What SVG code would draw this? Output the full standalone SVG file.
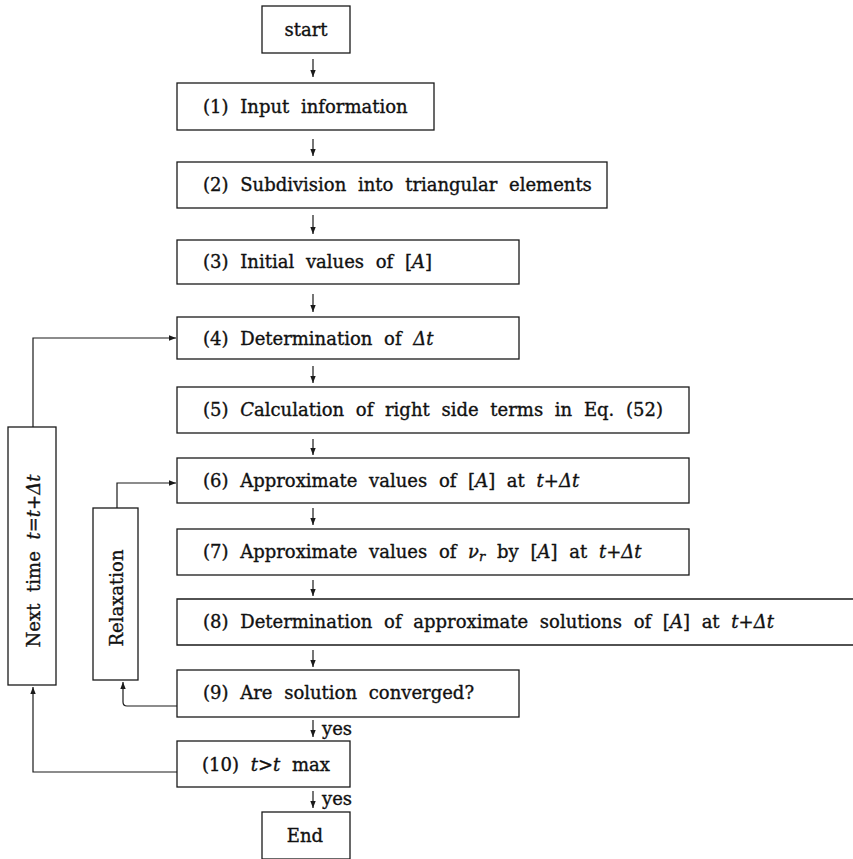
<svg xmlns="http://www.w3.org/2000/svg" width="853" height="859" viewBox="0 0 853 859">
<style>
.b{fill:none;stroke:#1a1a1a;stroke-width:1.3}
.c{fill:none;stroke:#1a1a1a;stroke-width:1.2}
.t{font-family:"DejaVu Serif","Liberation Serif",serif;font-size:18px;fill:#111;stroke:#111;stroke-width:0.35;word-spacing:6px}
.i{font-style:italic}
</style>
<defs>
<marker id="ah" markerUnits="userSpaceOnUse" markerWidth="8" markerHeight="8" viewBox="0 0 8 8" refX="7" refY="4" orient="auto">
<path d="M0,1.3 L7,4 L0,6.7 Z" fill="#1a1a1a"/>
</marker>
</defs>
<rect width="853" height="859" fill="#fff"/>

<g id="start"><rect class="b" x="262" y="6" width="88" height="47"/><text class="t" x="306" y="36" text-anchor="middle">start</text></g>
<g id="n1"><rect class="b" x="177" y="83" width="257" height="47"/><text class="t" x="203" y="113">(1) Input information</text></g>
<g id="n2"><rect class="b" x="177" y="162" width="430" height="46"/><text class="t" x="203" y="191">(2) Subdivision into triangular elements</text></g>
<g id="n3"><rect class="b" x="177" y="240" width="342" height="44"/><text class="t" x="203" y="268" word-spacing="8">(3) Initial values of [<tspan class="i">A</tspan>]</text></g>
<g id="n4"><rect class="b" x="177" y="317" width="342" height="42"/><text class="t" x="203" y="345">(4) Determination of <tspan class="i">Δt</tspan></text></g>
<g id="n5"><rect class="b" x="177" y="387" width="512" height="46"/><text class="t" x="203" y="416">(5) <tspan class="i">C</tspan>alculation of right side terms in Eq. (52)</text></g>
<g id="n6"><rect class="b" x="177" y="458" width="512" height="45"/><text class="t" x="203" y="487">(6) Approximate values of [<tspan class="i">A</tspan>] at <tspan class="i">t</tspan>+<tspan class="i">Δt</tspan></text></g>
<g id="n7"><rect class="b" x="177" y="529" width="512" height="46"/><text class="t" x="203" y="558">(7) Approximate values of <tspan class="i">ν</tspan><tspan class="i" font-size="13" dy="3">r</tspan><tspan dy="-3"> by [</tspan><tspan class="i">A</tspan>] at <tspan class="i">t</tspan>+<tspan class="i">Δt</tspan></text></g>
<g id="n8"><path class="b" d="M860,599 H177 V645 H860"/><text class="t" x="203" y="628">(8) Determination of approximate solutions of [<tspan class="i">A</tspan>] at <tspan class="i">t</tspan>+<tspan class="i">Δt</tspan></text></g>
<g id="n9"><rect class="b" x="177" y="670" width="342" height="47"/><text class="t" x="203" y="699">(9) Are solution converged?</text></g>
<g id="n10"><rect class="b" x="177" y="741" width="173" height="46"/><text class="t" x="202" y="771">(10) <tspan class="i">t</tspan>&gt;<tspan class="i">t</tspan> max</text></g>
<g id="end"><rect class="b" x="262" y="812" width="88" height="47"/><text class="t" x="305" y="842" text-anchor="middle">End</text></g>
<g id="next"><rect class="b" x="8" y="427" width="48" height="258"/><text class="t" transform="translate(40,561) rotate(-90)" x="0" y="0" text-anchor="middle" word-spacing="16">Next time <tspan class="i">t</tspan>=<tspan class="i">t</tspan>+<tspan class="i">Δt</tspan></text></g>
<g id="relax"><rect class="b" x="93" y="508" width="45" height="172"/><text class="t" transform="translate(123,598) rotate(-90)" x="0" y="0" text-anchor="middle">Relaxation</text></g>

<g id="connectors">
<path class="c" d="M313,59 V77" marker-end="url(#ah)"/>
<path class="c" d="M313,139 V156" marker-end="url(#ah)"/>
<path class="c" d="M313,215 V234" marker-end="url(#ah)"/>
<path class="c" d="M313,294 V312" marker-end="url(#ah)"/>
<path class="c" d="M313,366 V383" marker-end="url(#ah)"/>
<path class="c" d="M313,439 V455" marker-end="url(#ah)"/>
<path class="c" d="M313,508 V525" marker-end="url(#ah)"/>
<path class="c" d="M313,580 V596" marker-end="url(#ah)"/>
<path class="c" d="M313,650 V667" marker-end="url(#ah)"/>
<path class="c" d="M313,720 V737" marker-end="url(#ah)"/>
<text class="t" x="322" y="735">yes</text>
<path class="c" d="M313,791 V808" marker-end="url(#ah)"/>
<text class="t" x="322" y="805">yes</text>
<path class="c" d="M33,427 V338 H176" marker-end="url(#ah)"/>
<path class="c" d="M177,772 H33 V687" marker-end="url(#ah)"/>
<path class="c" d="M117,508 V483 H176" marker-end="url(#ah)"/>
<path class="c" d="M177,706 H127 Q123,706 123,702 V682" marker-end="url(#ah)"/>
</g>
</svg>
